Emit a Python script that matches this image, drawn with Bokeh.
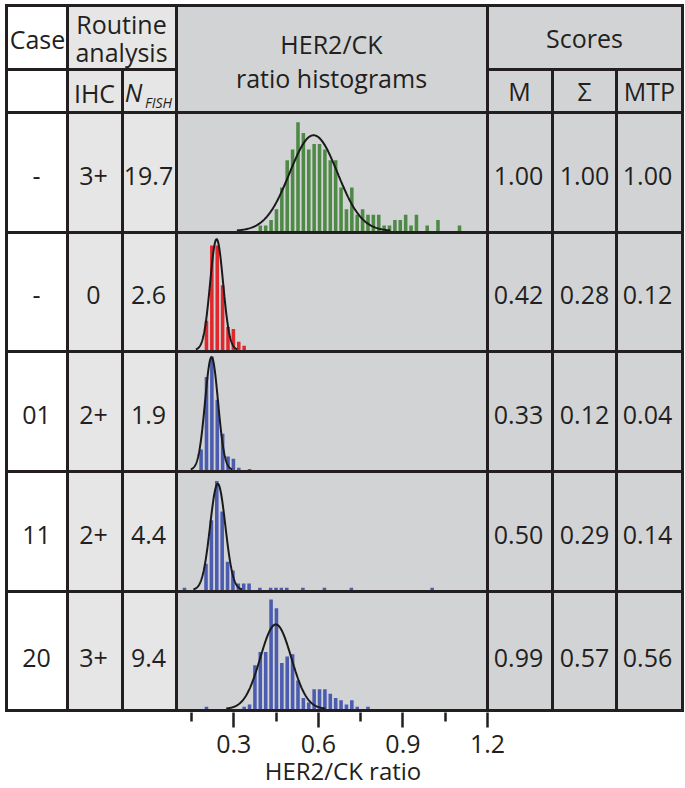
import numpy as np
from bokeh.plotting import figure
from bokeh.models import Range1d, LinearAxis, FixedTicker, ColumnDataSource
from bokeh.core.properties import value
from bokeh.embed import file_html
from bokeh.resources import INLINE

FONT = "Open Sans"
INK = "#231f20"

# ---------------- table data ----------------
cases = ["-", "-", "01", "11", "20"]
ihc = ["3+", "0", "2+", "2+", "3+"]
n_fish = ["19.7", "2.6", "1.9", "4.4", "9.4"]
score_m = ["1.00", "0.42", "0.33", "0.50", "0.99"]
score_sigma = ["1.00", "0.28", "0.12", "0.29", "0.57"]
score_mtp = ["1.00", "0.12", "0.04", "0.14", "0.56"]

# ---------------- histogram data ----------------
bin_width = 0.0191
hist_start = [0.394, 0.203, 0.184, 0.125, 0.203]   # centre of first bin
hist_counts = [
    [1, 1, 2, 4, 8, 13, 15, 20, 18, 15, 16, 16, 15, 13, 13, 8, 4, 8, 3, 4,
     3, 3, 3, 1, 1, 2, 2, 3, 1, 3, 0, 1, 0, 2, 0, 0, 0, 1],
    [14, 50, 50, 31, 11, 10, 4, 2],
    [9, 41, 50, 31, 16, 6, 5, 1, 0, 0.4],
    [1, 0, 0, 0, 12, 32, 50, 36, 13, 9, 3, 3, 3, 0, 1, 0, 1, 1, 1, 1,
     0, 0, 1, 0, 0, 0, 1, 0, 0, 0, 0, 1, 0, 0, 0, 0, 0, 0, 0, 0,
     0, 0, 0, 0, 0, 0, 1],
    [1, 0, 0, 0, 0, 0, 0, 1, 2, 20, 26, 26, 50, 46, 21, 24, 25, 13, 5, 3,
     9, 9, 9, 7, 5, 4, 2, 4, 1, 0, 1],
]
fit_mu = [0.583, 0.239, 0.221, 0.243, 0.449]
fit_sigma = [0.085, 0.023, 0.023, 0.027, 0.055]
fit_peak = [17.6, 53, 49.7, 48.7, 38.6]
hist_colors = ["#4e8a45", "#e2272c", "#4a5bb0", "#4a5bb0", "#4a5bb0"]

x_ticks = [0.3, 0.6, 0.9, 1.2]
x_minor_ticks = [0.15, 0.45, 0.75, 1.05]

# ---------------- layout (pixel coordinates) ----------------
W = 685
FRAME_BOTTOM = 712
col_x = [6, 67, 122, 176, 487, 552, 616, 682]
row_y = [5, 69, 112, 232, 351, 471, 591, 710]
px_per_count = [5.44, 2.09, 2.27, 2.18, 2.19]

p = figure(frame_width=W, frame_height=FRAME_BOTTOM,
           output_backend="svg", toolbar_location=None,
           x_range=Range1d(0, W), y_range=Range1d(FRAME_BOTTOM, 0),
           x_axis_type=None, y_axis_type=None, min_border=0)
p.outline_line_color = None
p.background_fill_color = "white"
p.border_fill_color = "white"

# ratio scale: 0.0967 at the left edge of histogram column, 1.2 at its right edge
px_per_ratio = (col_x[4] - col_x[3]) / (1.2 - 0.0967)
ratio0_px = col_x[4] - 1.2 * px_per_ratio
p.extra_x_ranges = {"ratio": Range1d((0 - ratio0_px) / px_per_ratio,
                                     (W - ratio0_px) / px_per_ratio)}
extra_y = {}
for k in range(5):
    base = row_y[k + 3] - 1.5
    c = px_per_count[k]
    extra_y[f"row{k}"] = Range1d((base - FRAME_BOTTOM) / c, base / c)
p.extra_y_ranges = extra_y

# cell backgrounds
p.quad(left=[col_x[1], col_x[3]], right=[col_x[3], col_x[7]],
       top=[row_y[0], row_y[0]], bottom=[row_y[7], row_y[7]],
       fill_color=["#e6e6e6", "#d2d3d5"], line_color=None)

# histograms + fitted normal curves
for k in range(5):
    counts = np.array(hist_counts[k], dtype=float)
    centres = hist_start[k] + bin_width * np.arange(len(counts))
    src = ColumnDataSource(dict(x=centres[counts > 0], top=counts[counts > 0]))
    p.vbar(x="x", top="top", bottom=0, width=bin_width * 0.66, source=src,
           fill_color=hist_colors[k], line_color=None,
           x_range_name="ratio", y_range_name=f"row{k}")
    xs = np.linspace(fit_mu[k] - 3.2 * fit_sigma[k], fit_mu[k] + 3.2 * fit_sigma[k], 200)
    ys = fit_peak[k] * np.exp(-0.5 * ((xs - fit_mu[k]) / fit_sigma[k]) ** 2)
    p.line(xs, ys, line_color="#1a1a1a", line_width=2,
           x_range_name="ratio", y_range_name=f"row{k}")

# table rules
hx0, hx1, hy = [], [], []
def hline(y, x0, x1):
    hx0.append(x0); hx1.append(x1); hy.append(y)
hline(row_y[0], col_x[0], col_x[7])
hline(row_y[1], col_x[0], col_x[3])
hline(row_y[1], col_x[4], col_x[7])
for y in row_y[2:8]:
    hline(y, col_x[0], col_x[7])
p.segment(x0=hx0, x1=hx1, y0=hy, y1=hy, line_color=INK, line_width=3, line_cap="square")

vx, vy0 = [], []
for x in [col_x[0], col_x[1], col_x[3], col_x[4], col_x[7]]:
    vx.append(x); vy0.append(row_y[0])
for x in [col_x[2], col_x[5], col_x[6]]:
    vx.append(x); vy0.append(row_y[1])
p.segment(x0=vx, x1=vx, y0=vy0, y1=[row_y[7]] * len(vx),
          line_color=INK, line_width=3, line_cap="square")

def texts(xs, ys, labels, size="25px", style="normal"):
    p.text(x=xs, y=ys, text=labels, text_font=value(FONT), text_font_size=size,
           text_font_style=style, text_color=INK, text_align="center",
           text_baseline="middle")

# header texts
texts([37, 121, 121, 94, 331, 331, 584, 519, 584, 649],
      [38, 23, 51, 92, 43, 77, 37, 90, 90, 90],
      ["Case", "Routine", "analysis", "IHC", "HER2/CK", "ratio histograms",
       "Scores", "M", "\u03a3", "MTP"])
texts([133], [91], ["N"], style="italic")
texts([158], [102], ["FISH"], size="14px", style="italic")

# body texts
row_text_y = [175, 294, 414, 534, 657]
for col_x_c, col in [(36, cases), (93, ihc), (148, n_fish), (518, score_m),
                     (584, score_sigma), (647, score_mtp)]:
    texts([col_x_c] * 5, row_text_y, col)

# x axis
ax = LinearAxis(x_range_name="ratio",
                ticker=FixedTicker(ticks=x_ticks, minor_ticks=x_minor_ticks),
                axis_label="HER2/CK ratio")
ax.axis_line_color = None
ax.major_tick_in = 0
ax.major_tick_out = 15
ax.minor_tick_in = 0
ax.minor_tick_out = 9
ax.major_tick_line_color = INK
ax.major_tick_line_width = 2.5
ax.minor_tick_line_color = INK
ax.minor_tick_line_width = 2.5
ax.major_label_text_font = FONT
ax.major_label_text_font_size = "25px"
ax.major_label_text_color = INK
ax.major_label_standoff = 7
ax.axis_label_text_font = FONT
ax.axis_label_text_font_size = "24px"
ax.axis_label_text_font_style = "normal"
ax.axis_label_text_color = INK
ax.axis_label_standoff = -2
p.add_layout(ax, "below")

open("out.html", "w").write(file_html(p, INLINE))
